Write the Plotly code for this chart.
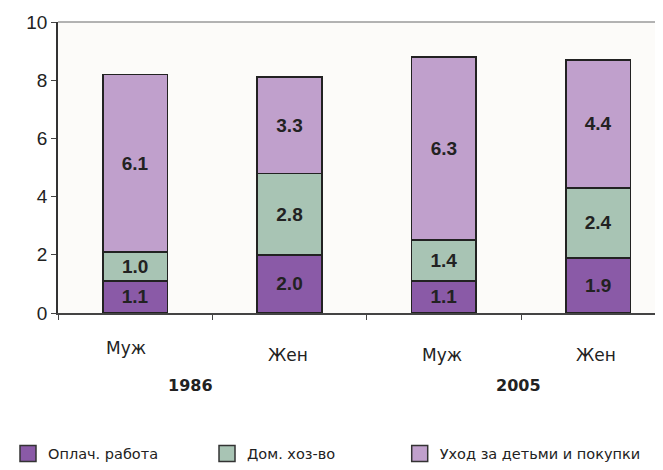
import plotly.graph_objects as go

# ---- data ----
years = ["1986", "1986", "2005", "2005"]
sexes = ["Муж", "Жен", "Муж", "Жен"]
group_labels = ["1986", "2005"]
series_names = ["Оплач. работа", "Дом. хоз-во", "Уход за детьми и покупки"]
paid_work = [1.1, 2.0, 1.1, 1.9]
housework = [1.0, 2.8, 1.4, 2.4]
childcare_shopping = [6.1, 3.3, 6.3, 4.4]
y_ticks = [0, 2, 4, 6, 8, 10]

colors = ["#8A5AA7", "#A8C4B4", "#C0A0CC"]
x_ids = [f"{s} {y}" for s, y in zip(sexes, years)]
legend_ids = ["legend", "legend2", "legend3"]
legend_x = [-0.0835, 0.2463, 0.5648]

fig = go.Figure()
for name, vals, col in zip(series_names, [paid_work, housework, childcare_shopping], colors):
    fig.add_trace(go.Bar(
        x=x_ids, y=vals, name=name,
        marker=dict(color=col, line=dict(color="#222222", width=1.6)),
        text=[f"{v:.1f}" for v in vals], textposition="inside",
        insidetextanchor="middle", constraintext="none",
        textfont=dict(family="Liberation Sans, Arial", size=19, color="#222222", weight="bold"),
        showlegend=False, hoverinfo="skip"))
for name, col, lg in zip(series_names, colors, legend_ids):
    fig.add_trace(go.Scatter(
        x=[None], y=[None], mode="markers", name=name, legend=lg,
        marker=dict(symbol="square", size=16, color=col, line=dict(color="#333333", width=1.5))))

# category labels (two levels)
for i, (xid, s) in enumerate(zip(x_ids, sexes)):
    fig.add_annotation(x=xid, y=0, xref="x", yref="paper", text=s, showarrow=False,
                       yanchor="middle", yshift=-35 if i == 0 else -42, xshift=-9 if i == 0 else -2,
                       font=dict(family="DejaVu Sans", size=17, color="#222222"))
group_shift = [-22, -3]
for g, lab in enumerate(group_labels):
    idx = [i for i, y in enumerate(years) if y == lab]
    fig.add_annotation(x=sum(idx) / len(idx), y=0, xref="x", yref="paper", text=f"<b>{lab}</b>",
                       showarrow=False, yanchor="middle", yshift=-72, xshift=group_shift[g],
                       font=dict(family="DejaVu Sans", size=16, color="#222222"))

# top border of plot area
fig.add_shape(type="line", xref="paper", yref="paper", x0=0, x1=1, y0=1, y1=1,
              line=dict(color="#9a9a9a", width=1.5))

legend_style = dict(orientation="h", xanchor="left", y=-0.428, yanchor="top",
                    font=dict(family="DejaVu Sans", size=14.5, color="#222222"),
                    itemclick=False, bgcolor="rgba(0,0,0,0)")

fig.update_layout(
    width=655, height=462,
    margin=dict(l=38, r=0, t=14, b=149),
    barmode="stack", bargap=0.58,
    paper_bgcolor="white", plot_bgcolor="#FCFBF9",
    font=dict(family="Liberation Sans, Arial", color="#222222"),
    legend=dict(x=legend_x[0], **legend_style),
    legend2=dict(x=legend_x[1], **legend_style),
    legend3=dict(x=legend_x[2], **legend_style),
    xaxis=dict(range=[-0.5, 3.42], showticklabels=False, ticks="outside", tickson="boundaries",
               ticklen=5, tickcolor="#444444", showline=True, linecolor="#444444", linewidth=1.5,
               showgrid=False, zeroline=False, fixedrange=True),
    yaxis=dict(range=[0, 10], tickvals=y_ticks, ticks="outside", ticklen=5, tickcolor="#444444",
               showline=True, linecolor="#333333", linewidth=1.5, showgrid=False, zeroline=False,
               tickfont=dict(family="Liberation Sans, Arial", size=19, color="#222222"),
               fixedrange=True),
)

fig.write_html("out.html")
